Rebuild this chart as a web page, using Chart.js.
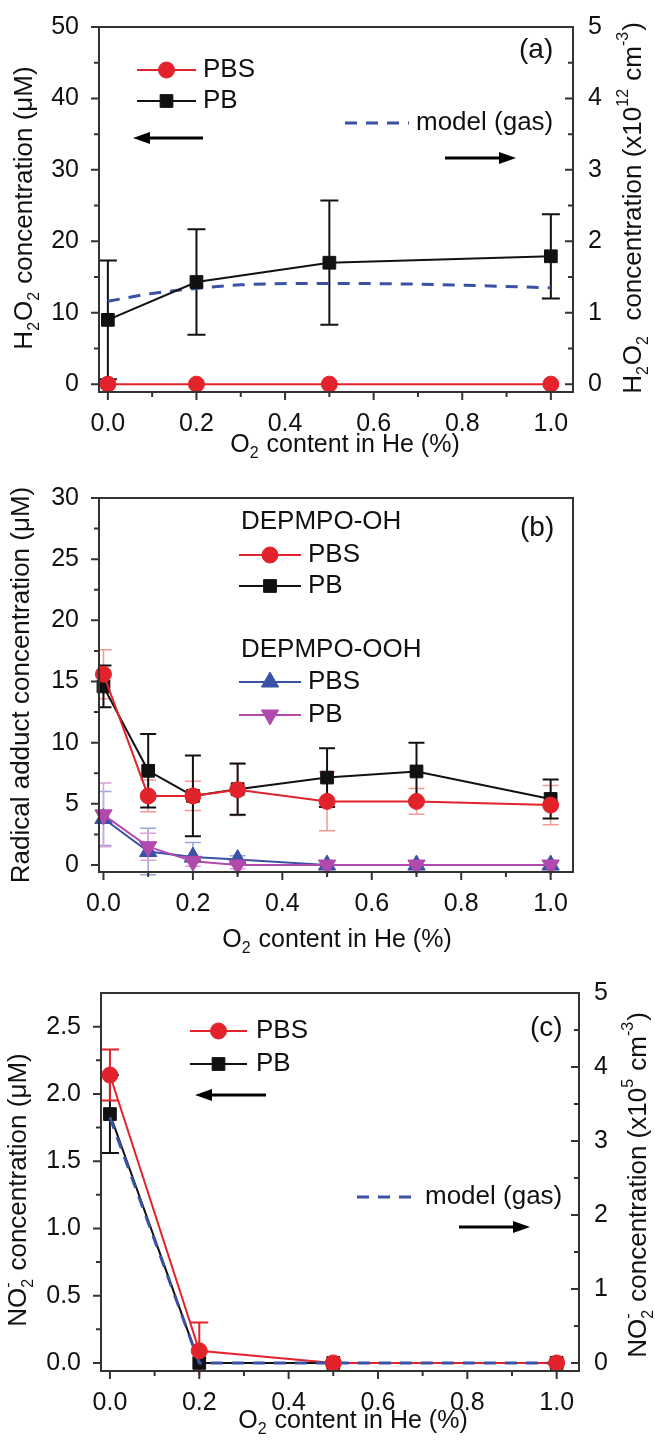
<!DOCTYPE html>
<html>
<head>
<meta charset="utf-8">
<script src="https://cdn.jsdelivr.net/npm/chart.js@4.4.1/dist/chart.umd.min.js"></script>
<style>
  body { margin: 0; background: #fff; width: 655px; height: 1440px; position: relative; overflow: hidden; }
  canvas { position: absolute; left: 0; }
</style>
</head>
<body>
<canvas id="ca" width="655" height="470" style="top:0"></canvas>
<canvas id="cb" width="655" height="490" style="top:470px"></canvas>
<canvas id="cc" width="655" height="480" style="top:960px"></canvas>
<script>
// (a) H2O2
const xA = [0, 0.2, 0.5, 1.0];
const h2o2PBS = [0, 0, 0, 0];
const h2o2PB = [9.0, 14.3, 17.0, 17.9];
const h2o2PBErr = [8.3, 7.4, 8.7, 5.9];
const xModelA = [0, 0.1, 0.2, 0.3, 0.5, 0.7, 1.0];
const h2o2Model = [1.16, 1.27, 1.34, 1.39, 1.41, 1.40, 1.35];   // x10^12 cm^-3, right axis

// (b) radical adducts
const xB = [0, 0.1, 0.2, 0.3, 0.5, 0.7, 1.0];
const ohPBS = [15.6, 5.65, 5.65, 6.15, 5.2, 5.2, 4.9];
const ohPBSErr = [2.0, 1.3, 1.2, 2.1, 2.4, 1.05, 1.6];
const ohPB = [14.6, 7.7, 5.65, 6.2, 7.15, 7.65, 5.4];
const ohPBErr = [1.7, 3.0, 3.3, 2.1, 2.4, 2.35, 1.6];
const oohPBS = [3.8, 1.1, 0.65, 0.45, 0, 0, 0];
const oohPBSErr = [2.2, 1.9, 1.2, 0.3, 0, 0, 0];
const oohPB = [4.1, 1.5, 0.3, 0, 0, 0, 0];
const oohPBErr = [2.6, 1.1, 0.4, 0.3, 0, 0, 0];

// (c) NO2-
const xC = [0, 0.2, 0.5, 1.0];
const no2PBS = [2.14, 0.09, 0, 0];
const no2PBSErr = [0.19, 0.21, 0, 0];
const no2PB = [1.85, 0, 0, 0];
const no2PBErr = [0.29, 0, 0, 0];
const no2Model = [3.32, 0, 0, 0];   // x10^5 cm^-3, right axis

// ticks
const xTicks = [0, 0.2, 0.4, 0.6, 0.8, 1.0];
const xMinor = [0.1, 0.3, 0.5, 0.7, 0.9];
const aLeftTicks = [0, 10, 20, 30, 40, 50];
const aLeftMinor = [5, 15, 25, 35, 45];
const aRightTicks = [0, 1, 2, 3, 4, 5];
const aRightMinor = [0.5, 1.5, 2.5, 3.5, 4.5];
const bLeftTicks = [0, 5, 10, 15, 20, 25, 30];
const bLeftMinor = [2.5, 7.5, 12.5, 17.5, 22.5, 27.5];
const cLeftTicks = [0, 0.5, 1.0, 1.5, 2.0, 2.5];
const cLeftMinor = [0.25, 0.75, 1.25, 1.75, 2.25];
const cRightTicks = [0, 1, 2, 3, 4, 5];
const cRightMinor = [0.5, 1.5, 2.5, 3.5, 4.5];

const FONT = "'Liberation Sans', Arial, Helvetica, sans-serif";
const RED = '#e3232b', BLACK = '#111111', BLUE = '#3a52a6', MAGENTA = '#b24aad';
const AXIS = '#333333';

const pts = (xs, ys) => xs.map((x, i) => ({ x: x, y: ys[i] }));

// text with sub/superscripts: string = normal, {b:..} sub, {p:..} sup
function drawRich(ctx, parts, x, y, size, align) {
  const small = Math.round(size * 0.62);
  const segs = parts.map(p => {
    if (typeof p === 'string') {
      ctx.font = size + 'px ' + FONT;
      return { p: p, w: ctx.measureText(p).width };
    }
    ctx.font = small + 'px ' + FONT;
    const w = Math.max(p.b ? ctx.measureText(p.b).width : 0, p.p ? ctx.measureText(p.p).width : 0);
    return { p: p, w: w + 1 };
  });
  const total = segs.reduce((s, g) => s + g.w, 0);
  let cx = align === 'center' ? x - total / 2 : (align === 'right' ? x - total : x);
  ctx.textAlign = 'left';
  ctx.textBaseline = 'middle';
  segs.forEach(g => {
    if (typeof g.p === 'string') {
      ctx.font = size + 'px ' + FONT;
      ctx.fillText(g.p, cx, y);
    } else {
      ctx.font = small + 'px ' + FONT;
      if (g.p.b) ctx.fillText(g.p.b, cx, y + size * 0.36);
      if (g.p.p) ctx.fillText(g.p.p, cx, y - size * 0.4);
    }
    cx += g.w;
  });
}

function vtitle(ctx, parts, x, y, size) {
  ctx.save();
  ctx.translate(x, y);
  ctx.rotate(-Math.PI / 2);
  drawRich(ctx, parts, 0, 0, size, 'center');
  ctx.restore();
}

function arrow(ctx, x1, x2, y) {
  const dir = Math.sign(x2 - x1);
  ctx.save();
  ctx.strokeStyle = '#000';
  ctx.fillStyle = '#000';
  ctx.lineWidth = 3;
  ctx.beginPath();
  ctx.moveTo(x1, y);
  ctx.lineTo(x2 - dir * 10, y);
  ctx.stroke();
  ctx.beginPath();
  ctx.moveTo(x2, y);
  ctx.lineTo(x2 - dir * 17, y - 6);
  ctx.lineTo(x2 - dir * 17, y + 6);
  ctx.closePath();
  ctx.fill();
  ctx.restore();
}

function legendEntry(ctx, e) {
  ctx.save();
  ctx.strokeStyle = e.color;
  ctx.lineWidth = e.lw || 2;
  if (e.dash) ctx.setLineDash(e.dash);
  ctx.beginPath();
  ctx.moveTo(e.x1, e.y);
  ctx.lineTo(e.x2, e.y);
  ctx.stroke();
  ctx.setLineDash([]);
  if (e.style) {
    ctx.fillStyle = e.color;
    ctx.lineWidth = 1;
    Chart.helpers.drawPoint(ctx, { pointStyle: e.style, radius: e.r, rotation: e.rot || 0, borderWidth: 1 }, (e.x1 + e.x2) / 2, e.y);
  }
  ctx.fillStyle = '#111';
  drawRich(ctx, [e.text], e.tx, e.y, 26, 'left');
  ctx.restore();
}

function tickMarks(ctx, scale, vals, len, side, area) {
  ctx.beginPath();
  vals.forEach(v => {
    const p = scale.getPixelForValue(v);
    if (side === 'left') { ctx.moveTo(area.left, p); ctx.lineTo(area.left - len, p); }
    if (side === 'right') { ctx.moveTo(area.right, p); ctx.lineTo(area.right - len, p); }
    if (side === 'bottom') { ctx.moveTo(p, area.bottom); ctx.lineTo(p, area.bottom + len); }
  });
  ctx.stroke();
}

// per-panel decorations: error bars, frame, ticks, legend, titles
const deco = {
  id: 'deco',
  beforeDatasetsDraw(chart) {
    const d = chart.options.plugins.deco;
    const ctx = chart.ctx, a = chart.chartArea;
    ctx.save();
    ctx.beginPath();
    ctx.rect(a.left, a.top, a.right - a.left, a.bottom - a.top + 4);
    ctx.clip();
    (d.errors || []).forEach(e => {
      const ys = chart.scales[e.axis || 'y'], xs = chart.scales.x;
      ctx.strokeStyle = e.color;
      ctx.lineWidth = e.lw || 2;
      e.xs.forEach((xv, i) => {
        if (!e.err[i]) return;
        const px = xs.getPixelForValue(xv);
        const top = ys.getPixelForValue(e.ys[i] + e.err[i]);
        const bot = ys.getPixelForValue(e.ys[i] - e.err[i]);
        ctx.beginPath();
        ctx.moveTo(px, top); ctx.lineTo(px, bot);
        ctx.moveTo(px - e.cap, top); ctx.lineTo(px + e.cap, top);
        ctx.moveTo(px - e.cap, bot); ctx.lineTo(px + e.cap, bot);
        ctx.stroke();
      });
    });
    ctx.restore();
  },
  afterDraw(chart) {
    const d = chart.options.plugins.deco;
    const ctx = chart.ctx, a = chart.chartArea;
    ctx.save();
    ctx.strokeStyle = AXIS;
    ctx.lineWidth = 2;
    ctx.strokeRect(a.left, a.top, a.right - a.left, a.bottom - a.top);
    tickMarks(ctx, chart.scales.x, xTicks, 8, 'bottom', a);
    tickMarks(ctx, chart.scales.x, xMinor, 5, 'bottom', a);
    tickMarks(ctx, chart.scales.y, d.yTicks, 8, 'left', a);
    tickMarks(ctx, chart.scales.y, d.yMinor, 5, 'left', a);
    if (chart.scales.y2) {
      tickMarks(ctx, chart.scales.y2, d.y2Ticks, 8, 'right', a);
      tickMarks(ctx, chart.scales.y2, d.y2Minor, 5, 'right', a);
    }
    ctx.fillStyle = '#111';
    (d.legend || []).forEach(e => legendEntry(ctx, e));
    (d.arrows || []).forEach(r => arrow(ctx, r[0], r[1], r[2]));
    (d.texts || []).forEach(t => { ctx.fillStyle = '#111'; drawRich(ctx, t.parts, t.x, t.y, t.size, t.align || 'left'); });
    (d.vtitles || []).forEach(t => { ctx.fillStyle = '#111'; vtitle(ctx, t.parts, t.x, t.y, t.size); });
    ctx.restore();
  }
};

function xScale(min, h) {
  return {
    type: 'linear', min: min, max: 1.05,
    grid: { display: false }, border: { display: false },
    afterBuildTicks: s => { s.ticks = xTicks.map(v => ({ value: v })); },
    ticks: { padding: 9, autoSkip: false, maxRotation: 0, color: '#111', font: { family: FONT, size: 25 }, callback: v => v.toFixed(1) },
    afterFit: s => { s.height = h; }
  };
}

function yScale(min, max, ticks, pos, w, fmt) {
  return {
    type: 'linear', position: pos, min: min, max: max,
    grid: { display: false }, border: { display: false },
    afterBuildTicks: s => { s.ticks = ticks.map(v => ({ value: v })); },
    ticks: { padding: pos === 'left' ? 12 : 7, autoSkip: false, color: '#111', font: { family: FONT, size: 25 }, callback: fmt || (v => String(v)) },
    afterFit: s => { s.width = w; }
  };
}

const base = (pad) => ({
  responsive: false, animation: false, events: [],
  layout: { padding: pad },
  plugins: { legend: { display: false }, tooltip: { enabled: false } }
});

const O2title = ['O', { b: '2' }, ' content in He (%)'];

// panel (a)
const optA = base({ top: 25, left: 0, right: 0, bottom: 0 });
optA.scales = {
  x: xScale(-0.02, 78),
  y: yScale(-1.1, 50, aLeftTicks, 'left', 99),
  y2: yScale(-0.11, 5, aRightTicks, 'right', 82)
};
optA.plugins.deco = {
  yTicks: aLeftTicks, yMinor: aLeftMinor, y2Ticks: aRightTicks, y2Minor: aRightMinor,
  errors: [{ xs: xA, ys: h2o2PB, err: h2o2PBErr, color: BLACK, cap: 9 }],
  legend: [
    { x1: 137, x2: 196, y: 70, color: RED, style: 'circle', r: 8, text: 'PBS', tx: 203 },
    { x1: 137, x2: 196, y: 101, color: BLACK, style: 'rect', r: 9, text: 'PB', tx: 203 },
    { x1: 345, x2: 409, y: 123, color: BLUE, dash: [12, 9], lw: 3, text: 'model (gas)', tx: 416 }
  ],
  arrows: [[203, 133, 138], [445, 516, 158]],
  texts: [
    { parts: ['(a)'], x: 519, y: 50, size: 28 },
    { parts: O2title, x: 345, y: 445, size: 25, align: 'center' }
  ],
  vtitles: [
    { parts: ['H', { b: '2' }, 'O', { b: '2' }, ' concentration (\u03bcM)'], x: 25, y: 208, size: 26 },
    { parts: ['H', { b: '2' }, 'O', { b: '2' }, '  concentration (x10', { p: '12' }, ' cm', { p: '-3' }, ')'], x: 634, y: 208, size: 26 }
  ]
};
new Chart(document.getElementById('ca'), {
  type: 'line',
  data: {
    datasets: [
      { label: 'PBS', data: pts(xA, h2o2PBS), borderColor: RED, backgroundColor: RED, borderWidth: 2, pointStyle: 'circle', pointRadius: 8, pointBorderWidth: 1, clip: false, order: 0 },
      { label: 'PB', data: pts(xA, h2o2PB), borderColor: BLACK, backgroundColor: BLACK, borderWidth: 2, pointStyle: 'rect', pointRadius: 9, pointBorderWidth: 1, clip: false, order: 1 },
      { label: 'model (gas)', data: pts(xModelA, h2o2Model), yAxisID: 'y2', borderColor: BLUE, borderWidth: 3, borderDash: [12, 9], pointRadius: 0, cubicInterpolationMode: 'monotone', order: 2 }
    ]
  },
  options: optA,
  plugins: [deco]
});

// panel (b)
const optB = base({ top: 28, left: 0, right: 82, bottom: 0 });
optB.scales = {
  x: xScale(-0.01, 88),
  y: yScale(-0.57, 30, bLeftTicks, 'left', 99)
};
optB.plugins.deco = {
  yTicks: bLeftTicks, yMinor: bLeftMinor,
  errors: [
    { xs: xB, ys: oohPBS, err: oohPBSErr, color: '#9aa5d6', cap: 8, lw: 1.5 },
    { xs: xB, ys: oohPB, err: oohPBErr, color: '#dba2d8', cap: 8, lw: 1.5 },
    { xs: xB, ys: ohPBS, err: ohPBSErr, color: '#f29a94', cap: 8, lw: 1.5 },
    { xs: xB, ys: ohPB, err: ohPBErr, color: BLACK, cap: 8 }
  ],
  legend: [
    { x1: 239, x2: 301, y: 85, color: RED, style: 'circle', r: 8, text: 'PBS', tx: 308 },
    { x1: 239, x2: 301, y: 116, color: BLACK, style: 'rect', r: 9, text: 'PB', tx: 308 },
    { x1: 239, x2: 301, y: 212, color: BLUE, style: 'triangle', r: 10, text: 'PBS', tx: 308 },
    { x1: 239, x2: 301, y: 245, color: MAGENTA, style: 'triangle', r: 10, rot: 180, text: 'PB', tx: 308 }
  ],
  texts: [
    { parts: ['DEPMPO-OH'], x: 241, y: 52, size: 26 },
    { parts: ['DEPMPO-OOH'], x: 241, y: 180, size: 26 },
    { parts: ['(b)'], x: 520, y: 58, size: 28 },
    { parts: O2title, x: 337, y: 470, size: 25, align: 'center' }
  ],
  vtitles: [
    { parts: ['Radical adduct concentration (\u03bcM)'], x: 22, y: 215, size: 26 }
  ]
};
new Chart(document.getElementById('cb'), {
  type: 'line',
  data: {
    datasets: [
      { label: 'OH PBS', data: pts(xB, ohPBS), borderColor: RED, backgroundColor: RED, borderWidth: 2, pointStyle: 'circle', pointRadius: 8, pointBorderWidth: 1, clip: false, order: 0 },
      { label: 'OH PB', data: pts(xB, ohPB), borderColor: BLACK, backgroundColor: BLACK, borderWidth: 2, pointStyle: 'rect', pointRadius: 9, pointBorderWidth: 1, clip: false, order: 1 },
      { label: 'OOH PB', data: pts(xB, oohPB), borderColor: MAGENTA, backgroundColor: MAGENTA, borderWidth: 2, pointStyle: 'triangle', rotation: 180, pointRadius: 10, pointBorderWidth: 1, clip: false, order: 2 },
      { label: 'OOH PBS', data: pts(xB, oohPBS), borderColor: BLUE, backgroundColor: BLUE, borderWidth: 2, pointStyle: 'triangle', pointRadius: 10, pointBorderWidth: 1, clip: false, order: 3 }
    ]
  },
  options: optB,
  plugins: [deco]
});

// panel (c)
const optC = base({ top: 33, left: 0, right: 0, bottom: 0 });
optC.scales = {
  x: xScale(-0.02, 69),
  y: yScale(-0.06, 2.75, cLeftTicks, 'left', 101, v => v.toFixed(1)),
  y2: yScale(-0.107, 5, cRightTicks, 'right', 76)
};
optC.plugins.deco = {
  yTicks: cLeftTicks, yMinor: cLeftMinor, y2Ticks: cRightTicks, y2Minor: cRightMinor,
  errors: [
    { xs: xC, ys: no2PB, err: no2PBErr, color: BLACK, cap: 9 },
    { xs: xC, ys: no2PBS, err: no2PBSErr, color: RED, cap: 9 }
  ],
  legend: [
    { x1: 190, x2: 247, y: 71, color: RED, style: 'circle', r: 8, text: 'PBS', tx: 256 },
    { x1: 190, x2: 247, y: 104, color: BLACK, style: 'rect', r: 9, text: 'PB', tx: 256 },
    { x1: 357, x2: 419, y: 237, color: BLUE, dash: [12, 9], lw: 3, text: 'model (gas)', tx: 425 }
  ],
  arrows: [[266, 195, 135], [459, 530, 267]],
  texts: [
    { parts: ['(c)'], x: 530, y: 68, size: 28 },
    { parts: O2title, x: 353, y: 461, size: 25, align: 'center' }
  ],
  vtitles: [
    { parts: ['NO', { b: '2', p: '-' }, ' concentration (\u03bcM)'], x: 19, y: 230, size: 26 },
    { parts: ['NO', { b: '2', p: '-' }, ' concentration (x10', { p: '5' }, ' cm', { p: '-3' }, ')'], x: 639, y: 225, size: 26 }
  ]
};
new Chart(document.getElementById('cc'), {
  type: 'line',
  data: {
    datasets: [
      { label: 'PBS points', data: pts(xC, no2PBS), showLine: false, borderColor: RED, backgroundColor: RED, pointStyle: 'circle', pointRadius: 8, pointBorderWidth: 1, clip: false, order: 0 },
      { label: 'model (gas)', data: pts(xC, no2Model), yAxisID: 'y2', borderColor: BLUE, borderWidth: 3, borderDash: [12, 9], pointRadius: 0, order: 1 },
      { label: 'PBS', data: pts(xC, no2PBS), borderColor: RED, borderWidth: 2, pointRadius: 0, order: 2 },
      { label: 'PB', data: pts(xC, no2PB), borderColor: BLACK, backgroundColor: BLACK, borderWidth: 2, pointStyle: 'rect', pointRadius: 9, pointBorderWidth: 1, clip: false, order: 3 }
    ]
  },
  options: optC,
  plugins: [deco]
});
</script>
</body>
</html>
